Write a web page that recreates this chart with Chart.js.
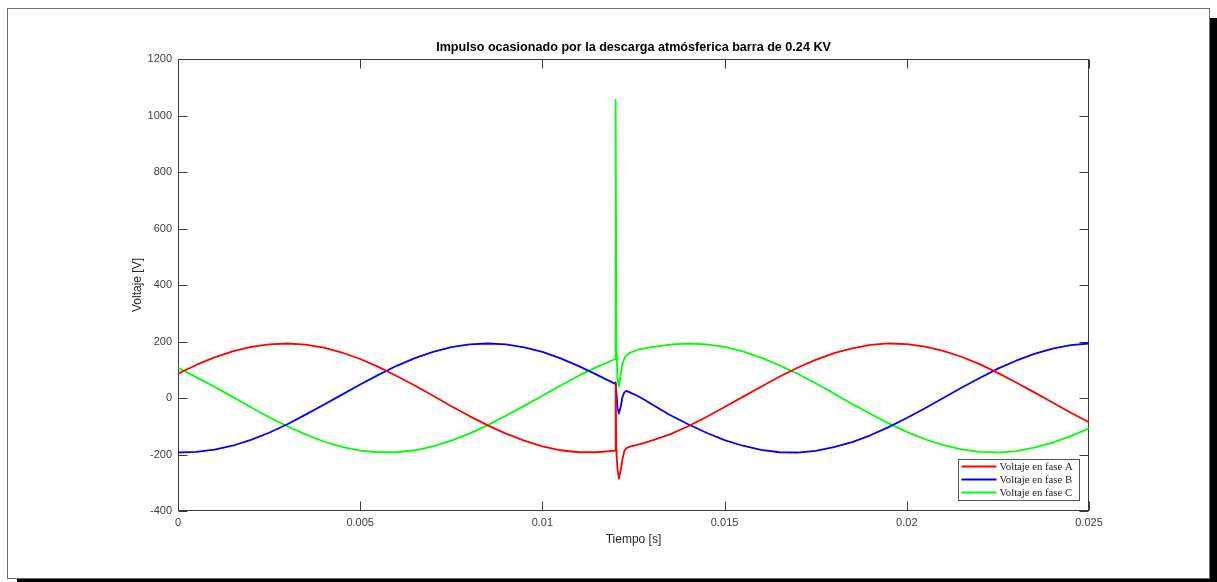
<!DOCTYPE html>
<html>
<head>
<meta charset="utf-8">
<script src="https://cdn.jsdelivr.net/npm/chart.js@4.4.1/dist/chart.umd.min.js"></script>
<style>
  html, body { margin: 0; padding: 0; background: #fff; overflow: hidden; }
  #marco { position: absolute; left: 7px; top: 8px; width: 1201px; height: 569px;
           border: 1px solid #6e6e6e; box-shadow: 10px 10px 0 #000; background: #fff; }
  #lienzo { position: absolute; left: 0; top: 0; }
</style>
</head>
<body>
<div id="marco"></div>
<canvas id="lienzo" width="1217" height="582"></canvas>
<script>
// tiempo [s] de cada muestra
const tiempo = [
  0, 0.0005, 0.001, 0.0015, 0.002, 0.0025, 0.003, 0.0035, 0.004, 0.0045, 0.005, 0.0055,
  0.006, 0.0065, 0.007, 0.0075, 0.008, 0.0085, 0.009, 0.0095, 0.01, 0.0105, 0.011, 0.0115, 0.012,
  0.01201, 0.01203, 0.01206, 0.0121, 0.01215, 0.0122, 0.01225, 0.0123, 0.0124, 0.0126, 0.0128, 0.013,
  0.0135, 0.014, 0.0145, 0.015, 0.0155, 0.016, 0.0165, 0.017, 0.0175, 0.018, 0.0185, 0.019,
  0.0195, 0.02, 0.0205, 0.021, 0.0215, 0.022, 0.0225, 0.023, 0.0235, 0.024, 0.0245, 0.025
];

// voltajes [V]
const faseA = [
  86, 117, 144, 165, 181, 190, 193, 189, 178, 161, 138, 110,
  78, 44, 8, -29, -64, -97, -126, -151, -171, -185, -192, -192, -186,
  50, -190, -250, -285, -255, -215, -188, -178, -172, -166, -159, -151,
  -129, -100, -67, -32, 4, 40, 75, 107, 135, 159, 176, 188,
  193, 191, 182, 167, 146, 120, 89, 55, 20, -16, -52, -86
];
const faseB = [
  -193, -191, -183, -169, -148, -123, -93, -59, -24, 12, 48, 82,
  114, 141, 163, 180, 190, 193, 190, 179, 163, 140, 113, 82, 50,
  55, 20, -35, -55, -30, 5, 20, 25, 20, 8, -6, -22,
  -60, -93, -123, -149, -169, -184, -192, -193, -187, -174, -156, -132,
  -103, -71, -36, 0, 36, 71, 104, 132, 156, 175, 187, 193
];
const faseC = [
  107, 74, 40, 4, -33, -68, -100, -129, -154, -173, -186, -192,
  -192, -185, -171, -151, -126, -96, -63, -28, 8, 44, 79, 110, 138,
  1055, 200, 70, 40, 85, 122, 140, 150, 160, 170, 176, 180,
  189, 193, 190, 181, 165, 143, 116, 86, 52, 16, -21, -56,
  -90, -120, -146, -167, -182, -191, -193, -188, -176, -158, -135, -107
];

const nombres = ['Voltaje en fase A', 'Voltaje en fase B', 'Voltaje en fase C'];
const colores = ['#ff0000', '#0000ff', '#00ff00'];

const ticksX = [0, 0.005, 0.01, 0.015, 0.02, 0.025];
const etiquetasX = ['0', '0.005', '0.01', '0.015', '0.02', '0.025'];
const ticksY = [-400, -200, 0, 200, 400, 600, 800, 1000, 1200];
const etiquetasY = ['-400', '-200', '0', '200', '400', '600', '800', '1000', '1200'];

const titulo = 'Impulso ocasionado por la descarga atmósferica barra de 0.24 KV';
const tituloX = 'Tiempo [s]';
const tituloY = 'Voltaje [V]';

const fuente = '"Liberation Sans", Arial, Helvetica, sans-serif';
const gris = '#404040';

// caja de ejes, marcas hacia adentro, titulos y leyenda
const marco = {
  id: 'marco',
  beforeDatasetsDraw(chart) {
    const { ctx, chartArea: a, scales: { x, y } } = chart;
    const l = Math.round(a.left) + 0.5, r = Math.round(a.right) - 0.5;
    const t = Math.round(a.top) + 0.5, b = Math.round(a.bottom) - 0.5;
    ctx.save();
    ctx.strokeStyle = '#3a3a3a';
    ctx.lineWidth = 1;
    ctx.strokeRect(l, t, r - l, b - t);
    ctx.beginPath();
    ticksX.forEach(v => {
      const px = Math.round(x.getPixelForValue(v)) + 0.5;
      ctx.moveTo(px, b); ctx.lineTo(px, b - 9);
      ctx.moveTo(px, t); ctx.lineTo(px, t + 9);
    });
    ticksY.forEach(v => {
      const py = Math.round(y.getPixelForValue(v)) + 0.5;
      ctx.moveTo(l, py); ctx.lineTo(l + 9, py);
      ctx.moveTo(r, py); ctx.lineTo(r - 9, py);
    });
    ctx.stroke();
    ctx.restore();
  },
  afterDraw(chart) {
    const { ctx, chartArea: a } = chart;
    const cx = (a.left + a.right) / 2;
    ctx.save();
    ctx.fillStyle = '#000';
    ctx.textAlign = 'center';
    ctx.textBaseline = 'alphabetic';
    ctx.font = 'bold 12.6px ' + fuente;
    ctx.fillText(titulo, cx, a.top - 8);

    ctx.fillStyle = '#262626';
    ctx.font = '12px ' + fuente;
    ctx.fillText(tituloX, cx, a.bottom + 32);
    ctx.save();
    ctx.translate(a.left - 40, (a.top + a.bottom) / 2);
    ctx.rotate(-Math.PI / 2);
    ctx.textBaseline = 'middle';
    ctx.fillText(tituloY, 0, 0);
    ctx.restore();

    // leyenda
    const w = 121, h = 41;
    const lx = Math.round(a.right) - 10 - w + 0.5, ly = Math.round(a.bottom) - 11 - h + 0.5;
    ctx.fillStyle = '#fff';
    ctx.fillRect(lx, ly, w, h);
    ctx.strokeStyle = '#555';
    ctx.lineWidth = 1;
    ctx.strokeRect(lx, ly, w, h);
    ctx.font = '10.7px "Liberation Serif", "Times New Roman", serif';
    ctx.textAlign = 'left';
    ctx.textBaseline = 'middle';
    chart.data.datasets.forEach((ds, i) => {
      const yy = ly + 7 + i * 13;
      ctx.strokeStyle = ds.borderColor;
      ctx.lineWidth = 2;
      ctx.beginPath();
      ctx.moveTo(lx + 3, yy); ctx.lineTo(lx + 38, yy);
      ctx.stroke();
      ctx.fillStyle = '#222';
      ctx.fillText(ds.label, lx + 41, yy + 0.5);
    });
    ctx.restore();
  }
};

const ctx = document.getElementById('lienzo').getContext('2d');
new Chart(ctx, {
  type: 'line',
  data: {
    datasets: [faseA, faseB, faseC].map((serie, i) => ({
      label: nombres[i],
      data: tiempo.map((t, k) => ({ x: t, y: serie[k] })),
      borderColor: colores[i],
      borderWidth: 1.8,
      borderJoinStyle: 'round',
      pointRadius: 0,
      tension: 0,
      fill: false
    }))
  },
  options: {
    responsive: false,
    animation: false,
    layout: { padding: { top: 59, right: 128, left: 0, bottom: 0 } },
    plugins: { legend: { display: false }, tooltip: { enabled: false }, title: { display: false } },
    scales: {
      x: {
        type: 'linear', min: 0, max: 0.025,
        grid: { display: false, drawTicks: false },
        border: { display: false },
        afterBuildTicks: s => { s.ticks = ticksX.map(v => ({ value: v })); },
        afterFit: s => { s.height = 71; },
        ticks: {
          color: gris, font: { family: fuente, size: 11 }, padding: 5,
          maxRotation: 0, autoSkip: false,
          callback: (v, i) => etiquetasX[i]
        }
      },
      y: {
        type: 'linear', min: -400, max: 1200,
        grid: { display: false, drawTicks: false },
        border: { display: false },
        afterBuildTicks: s => { s.ticks = ticksY.map(v => ({ value: v })); },
        afterFit: s => { s.width = 178; },
        ticks: {
          color: gris, font: { family: fuente, size: 11 }, padding: 6,
          autoSkip: false,
          callback: (v, i) => etiquetasY[i]
        }
      }
    }
  },
  plugins: [marco]
});
</script>
</body>
</html>
